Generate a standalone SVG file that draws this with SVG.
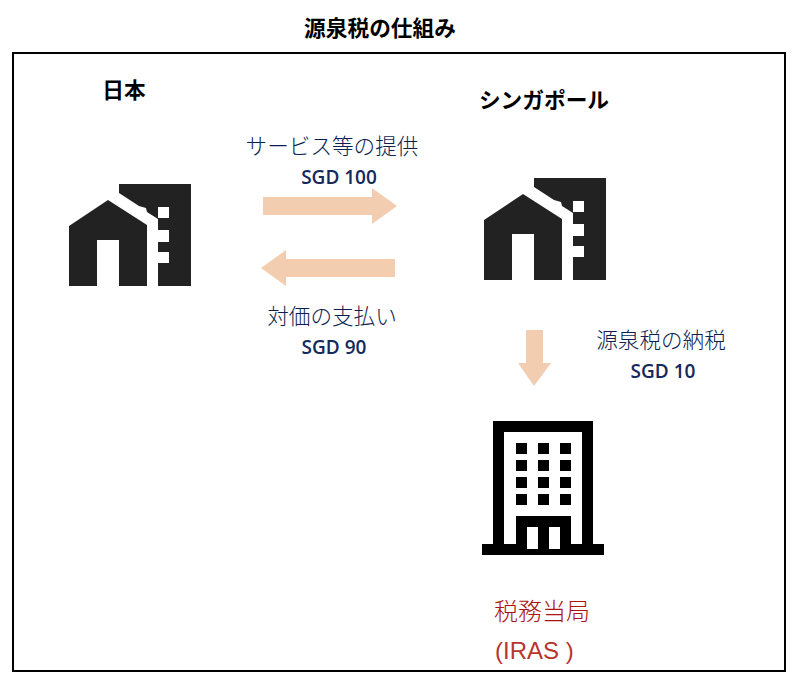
<svg xmlns="http://www.w3.org/2000/svg" width="800" height="688" viewBox="0 0 800 688">
<style>
text{font-family:"Noto Sans CJK JP","Noto Sans",sans-serif;text-anchor:middle}
.h{font-size:21.7px;font-weight:700;fill:#000}
.l{font-size:21.6px;font-weight:300;fill:#0C1F50}
.v{font-size:19px;font-family:"Open Sans",sans-serif;font-weight:600;fill:#14295C}
.r{font-size:24px;font-weight:300;fill:#AC1410;text-anchor:start}
.e{font-family:"Liberation Sans",sans-serif;font-weight:400;fill:#B8352E}
.a{fill:#F2CDB0}
.i{fill:#222}
</style>
<defs>
<g id="house">
<path class="i" d="M119,184H191V286H158V263H169V252H158V242H169V230H158V219L147,212L146,208L139,206L119,193Z"/>
<rect x="158" y="207" width="11" height="11" fill="#fff"/>
<path class="i" d="M108,200L147,225V286H119V240H97V286H69V226Z"/>
</g>
</defs>
<rect x="13" y="53" width="772" height="618" fill="#fff" stroke="#000" stroke-width="2"/>
<text id="title" class="h" x="380" y="36">源泉税の仕組み</text>
<g id="japan"><text class="h" x="124" y="98">日本</text><use href="#house"/></g>
<g id="singapore"><text class="h" x="544" y="108">シンガポール</text><use href="#house" x="415" y="-6"/></g>
<g id="iras">
<path fill="#000" fill-rule="evenodd" d="M493,421H593V544H604V555H482V544H493ZM504,432V544H516V516H571V544H582V432Z"/>
<path fill="#000" d="M516,443h11v11h-11zM538,443h11v11h-11zM560,443h11v11h-11zM516,460h11v11h-11zM538,460h11v11h-11zM560,460h11v11h-11zM516,477h11v11h-11zM538,477h11v11h-11zM560,477h11v11h-11zM516,494h11v11h-11zM538,494h11v11h-11zM560,494h11v11h-11z"/>
<rect x="527" y="527" width="11" height="22" fill="#fff"/><rect x="549" y="527" width="11" height="22" fill="#fff"/>
<text class="r" x="494" y="620">税務当局</text>
<text class="r e" x="495" y="659">(IRAS )</text>
</g>
<g id="connectors">
<path class="a" d="M263,197H372V188L397,206L372,224V215H263Z"/>
<path class="a" d="M395,259H286V250L261,268L286,286V277H395Z"/>
<path class="a" d="M526,330H543V363H551L534,386L518,363H526Z"/>
</g>
<g id="labels">
<text class="l" x="332" y="154">サービス等の提供</text>
<text class="v" x="339" y="184">SGD 100</text>
<text class="l" x="332" y="324">対価の支払い</text>
<text class="v" x="334" y="354">SGD 90</text>
<text class="l" x="661" y="348">源泉税の納税</text>
<text class="v" x="663" y="378">SGD 10</text>
</g>
</svg>
